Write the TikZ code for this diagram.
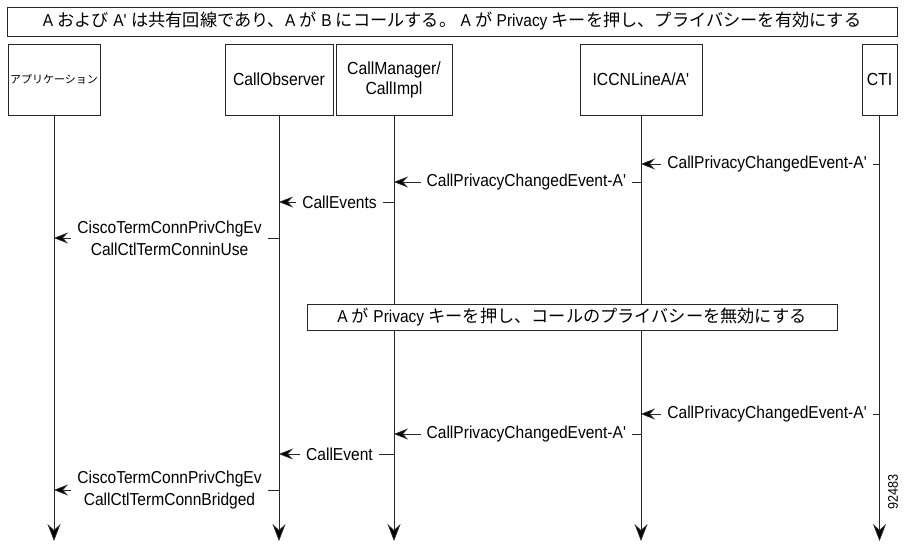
\documentclass[tikz,border=0pt]{standalone}
\usepackage{fontspec}
\setmainfont{Liberation Sans}[FakeStretch=0.9]
\newfontfamily\jpfont{Noto Sans CJK JP}
\usetikzlibrary{arrows.meta}
\newcommand{\jatext}[1]{{\jpfont #1}}
\newcommand{\qs}{\textquotesingle}
\tikzset{
	objbox/.style={draw=black!85, line width=0.8pt, minimum height=71pt, inner sep=2pt, align=center, font=\fontsize{17.5}{20}\selectfont},
	banner/.style={draw=black!85, fill=white, line width=0.8pt, inner sep=0pt, font=\fontsize{17.2}{19}\selectfont},
	life/.style={draw=black!85, line width=0.8pt, -{Stealth[length=17pt, width=13pt, inset=6pt, fill=black]}},
	msg/.style={draw=black!85, line width=0.8pt, -{Stealth[length=14pt, width=11pt, inset=5pt, fill=black]}},
	msgtext/.style={fill=white, inner xsep=6pt, inner ysep=1pt, align=center, font=\fontsize{17.3}{22}\selectfont},
}

\begin{document}
\begin{tikzpicture}[x=1pt, y=-1pt]
		\useasboundingbox (0,0) rectangle (904,548);
		%%%%% START %%%%%
		
		\node[banner, minimum width=890pt, minimum height=29pt] (top) at (452,21.5) {A \jatext{および} A\qs{} \jatext{は共有回線であり、}A \jatext{が} B \jatext{にコールする。} A \jatext{が} Privacy \jatext{キーを押し、プライバシーを有効にする}};
		
		\node[objbox, minimum width=92pt] (app) at (54,79.5) {\jatext{\fontsize{11}{13}\selectfont アプリケーション}};
		\node[objbox, minimum width=108pt] (obs) at (279,79.5) {CallObserver};
		\node[objbox, minimum width=116pt] (cm) at (394,79.5) {CallManager/\\CallImpl};
		\node[objbox, minimum width=122pt] (iccn) at (641,79.5) {ICCNLineA/A\qs};
		\node[objbox, minimum width=35pt] (cti) at (879.5,79.5) {CTI};
		
		\coordinate (append) at (54,541);
		\coordinate (obsend) at (279,541);
		\coordinate (cmend) at (394,541);
		\coordinate (iccnend) at (641,541);
		\coordinate (ctiend) at (879.5,541);
		
		\draw[life] (app) -- (append);
		\draw[life] (obs) -- (obsend);
		\draw[life] (cm) -- (cmend);
		\draw[life] (iccn) -- (iccnend);
		\draw[life] (cti) -- (ctiend);
		
		\draw[msg] (cti |- 0,164) -- node[msgtext, xshift=7pt] (m1) {CallPrivacyChangedEvent-A\qs} (iccn |- 0,164);
		\draw[msg] (iccn |- 0,182) -- node[msgtext, xshift=9pt] (m2) {CallPrivacyChangedEvent-A\qs} (cm |- 0,182);
		\draw[msg] (cm |- 0,202) -- node[msgtext, xshift=3pt] (m3) {CallEvents} (obs |- 0,202);
		\draw[msg] (obs |- 0,238) -- node[msgtext, xshift=3pt] (m4) {CiscoTermConnPrivChgEv\\CallCtlTermConninUse} (app |- 0,238);
		
		\node[banner, minimum width=530pt, minimum height=26pt] (mid) at (572,317) {A \jatext{が} Privacy \jatext{キーを押し、コールのプライバシーを無効にする}};
		
		\draw[msg] (cti |- 0,414) -- node[msgtext, xshift=7pt] (m5) {CallPrivacyChangedEvent-A\qs} (iccn |- 0,414);
		\draw[msg] (iccn |- 0,434) -- node[msgtext, xshift=9pt] (m6) {CallPrivacyChangedEvent-A\qs} (cm |- 0,434);
		\draw[msg] (cm |- 0,454) -- node[msgtext, xshift=3pt] (m7) {CallEvent} (obs |- 0,454);
		\draw[msg] (obs |- 0,490) -- node[msgtext, xshift=3pt] (m8) {CiscoTermConnPrivChgEv\\CallCtlTermConnBridged} (app |- 0,490);
		
		\node[rotate=90, font=\fontsize{14}{14}\selectfont] (fignum) at (893,492) {92483};
		
		%%%%% END %%%%%
	\end{tikzpicture}
\end{document}
